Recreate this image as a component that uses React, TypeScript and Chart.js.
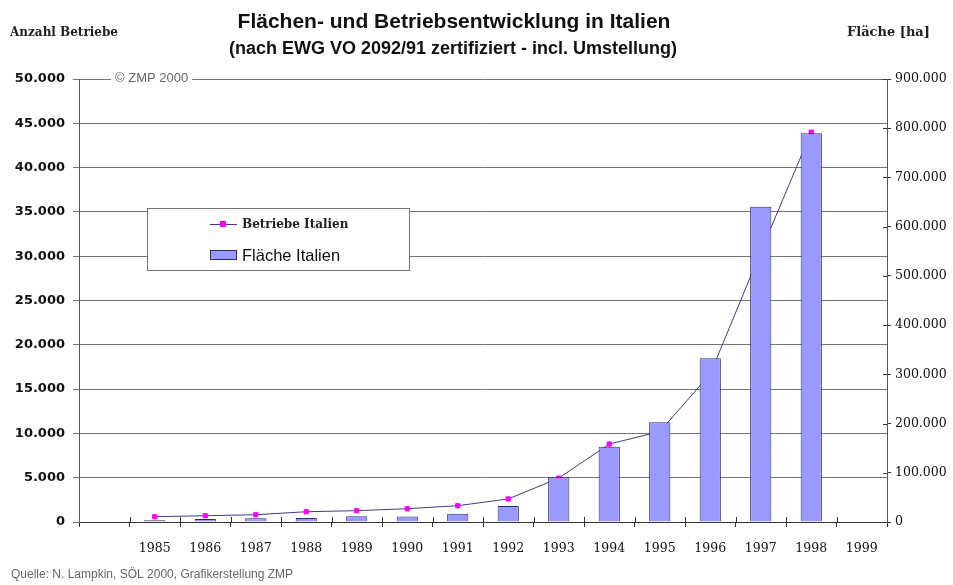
import React, { useEffect, useRef } from "react";
import { Chart, registerables } from "chart.js";

Chart.register(...registerables);

// ---- data ----
const years = ["1985", "1986", "1987", "1988", "1989", "1990", "1991", "1992", "1993", "1994", "1995", "1996", "1997", "1998", "1999"];
const betriebeItalien = [600, 710, 820, 1160, 1280, 1500, 1840, 2600, 4950, 8800, 10200, 16700, 30500, 44000, null];
const flaecheItalien = [3400, 6100, 7500, 8100, 11600, 11000, 16900, 32500, 90800, 153000, 202500, 332600, 640600, 789700, null];
const leftAxisMax = 50000;
const leftAxisStep = 5000;
const rightAxisMax = 900000;
const rightAxisStep = 100000;

const TITLE = "Flächen- und Betriebsentwicklung in Italien";
const SUBTITLE = "(nach EWG VO 2092/91 zertifiziert - incl. Umstellung)";
const LEFT_TITLE = "Anzahl Betriebe";
const RIGHT_TITLE = "Fläche [ha]";
const COPYRIGHT = "© ZMP 2000";
const SOURCE = "Quelle: N. Lampkin, SÖL 2000, Grafikerstellung ZMP";
const LINE_LABEL = "Betriebe Italien";
const BAR_LABEL = "Fläche Italien";

const fmt = (v: number) => String(v).replace(/\B(?=(\d{3})+(?!\d))/g, ".");

const BAR_FILL = "#9999ff";
const BAR_BORDER = "#2e2e5e";
const LINE_COLOR = "#3c3c8c";
const POINT_COLOR = "#ff00ff";
const GRID = "#747474";

const overlay = {
  id: "overlay",
  beforeDraw(chart: any) {
    const ctx = chart.ctx;
    ctx.save();
    ctx.fillStyle = "#ffffff";
    ctx.fillRect(0, 0, chart.width, chart.height);
    ctx.restore();
  },
  afterDraw(chart: any) {
    const ctx = chart.ctx;
    const xs = chart.scales.x;
    const y1 = chart.scales.y1;
    ctx.save();
    // inner tick parts (crossing ticks)
    ctx.strokeStyle = "#333";
    ctx.lineWidth = 1;
    const n = xs.ticks.length;
    const cw = (xs.right - xs.left) / n;
    for (let i = 1; i < n; i++) {
      const x = Math.round(xs.left + i * cw) + 0.5;
      ctx.beginPath();
      ctx.moveTo(x, xs.top - 5);
      ctx.lineTo(x, xs.top);
      ctx.stroke();
    }
    y1.ticks.forEach((t: any) => {
      const y = Math.round(y1.getPixelForValue(t.value)) + 0.5;
      ctx.beginPath();
      ctx.moveTo(y1.left - 4, y);
      ctx.lineTo(y1.left, y);
      ctx.stroke();
    });

    // titles
    ctx.fillStyle = "#111";
    ctx.textAlign = "center";
    ctx.textBaseline = "middle";
    ctx.font = 'bold 21px "Liberation Sans", Arial, sans-serif';
    ctx.fillText(TITLE, 454, 22);
    ctx.font = 'bold 18px "Liberation Sans", Arial, sans-serif';
    ctx.fillText(SUBTITLE, 453, 49);

    ctx.textAlign = "left";
    ctx.fillStyle = "#222";
    ctx.font = 'bold 12px "DejaVu Serif", serif';
    ctx.fillText(LEFT_TITLE, 10, 33);
    ctx.font = 'bold 13px "DejaVu Serif", serif';
    ctx.fillText(RIGHT_TITLE, 847, 33);

    // footer
    ctx.fillStyle = "#666";
    ctx.font = '12px "Liberation Sans", Arial, sans-serif';
    ctx.fillText(SOURCE, 11, 575);

    // copyright on top gridline
    ctx.font = '13px "Liberation Sans", Arial, sans-serif';
    const cwid = ctx.measureText(COPYRIGHT).width;
    ctx.fillStyle = "#fff";
    ctx.fillRect(111, 70, cwid + 8, 16);
    ctx.fillStyle = "#666";
    ctx.fillText(COPYRIGHT, 115, 78);

    // legend box
    const lx = 147, ly = 208, lw = 262, lh = 62;
    ctx.fillStyle = "#fff";
    ctx.fillRect(lx, ly, lw, lh);
    ctx.strokeStyle = "#777";
    ctx.strokeRect(lx + 0.5, ly + 0.5, lw, lh);
    const ds = chart.data.datasets;
    // line item
    ctx.strokeStyle = LINE_COLOR;
    ctx.beginPath();
    ctx.moveTo(210, 224.5);
    ctx.lineTo(237, 224.5);
    ctx.stroke();
    ctx.fillStyle = POINT_COLOR;
    ctx.fillRect(220, 221, 6, 6);
    ctx.fillStyle = "#222";
    ctx.font = 'bold 12px "DejaVu Serif", serif';
    ctx.fillText(ds[0].label, 242, 225);
    // bar item
    ctx.fillStyle = BAR_FILL;
    ctx.fillRect(210, 250, 27, 10);
    ctx.strokeStyle = BAR_BORDER;
    ctx.strokeRect(210.5, 250.5, 26, 9);
    ctx.fillStyle = "#111";
    ctx.font = '16.5px "Liberation Sans", Arial, sans-serif';
    ctx.fillText(ds[1].label, 242, 256);
    ctx.restore();
  },
};

export default function App() {
  const ref = useRef<HTMLCanvasElement | null>(null);
  useEffect(() => {
    if (!ref.current) return;
    const labels = ["", ...years];
    const chart = new Chart(ref.current, {
      data: {
        labels,
        datasets: [
          {
            type: "line",
            label: LINE_LABEL,
            data: [null, ...betriebeItalien],
            yAxisID: "y",
            borderColor: LINE_COLOR,
            borderWidth: 1,
            pointStyle: "rect",
            pointRadius: 3,
            pointBackgroundColor: POINT_COLOR,
            pointBorderColor: POINT_COLOR,
            tension: 0,
            order: 1,
          },
          {
            type: "bar",
            label: BAR_LABEL,
            data: [null, ...flaecheItalien],
            yAxisID: "y1",
            backgroundColor: BAR_FILL,
            borderColor: BAR_BORDER,
            borderWidth: 1,
            categoryPercentage: 1,
            barPercentage: 0.42,
            order: 0,
          },
        ] as any,
      },
      options: {
        responsive: false,
        animation: false,
        devicePixelRatio: 1,
        layout: { padding: { top: 79, left: 0, right: 0, bottom: 0 } },
        plugins: {
          legend: { display: false },
          title: { display: false },
          tooltip: { enabled: false },
        },
        scales: {
          x: {
            type: "category",
            offset: true,
            grid: { offset: true, drawOnChartArea: false, drawTicks: true, tickLength: 5, color: "#333" },
            border: { color: "#333" },
            ticks: {
              color: "#111",
              font: { family: '"DejaVu Serif", serif', size: 12.5 },
              padding: 14,
              maxRotation: 0,
              autoSkip: false,
            },
            afterFit: (s: any) => { s.height = 63; },
          },
          y: {
            position: "left",
            min: 0,
            max: leftAxisMax,
            grid: { color: GRID, tickLength: 6 },
            border: { color: "#555" },
            ticks: {
              stepSize: leftAxisStep,
              color: "#111",
              font: { family: '"DejaVu Sans", sans-serif', size: 13, weight: "bold" },
              padding: 8,
              callback: (v: any) => fmt(Number(v)),
            },
            afterFit: (s: any) => { s.width = 79; },
          },
          y1: {
            position: "right",
            min: 0,
            max: rightAxisMax,
            grid: { drawOnChartArea: false, tickLength: 4, color: "#333" },
            border: { color: "#555" },
            ticks: {
              stepSize: rightAxisStep,
              color: "#111",
              font: { family: '"DejaVu Serif", serif', size: 12.5 },
              padding: 4,
              callback: (v: any) => fmt(Number(v)),
            },
            afterFit: (s: any) => { s.width = 66; },
          },
        },
      } as any,
      plugins: [overlay],
    });
    return () => chart.destroy();
  }, []);
  return (
    <div style={{ position: "absolute", left: 0, top: 0, width: 953, height: 585, background: "#fff" }}>
      <canvas ref={ref} width={953} height={585} style={{ width: 953, height: 585, display: "block" }} />
    </div>
  );
}
